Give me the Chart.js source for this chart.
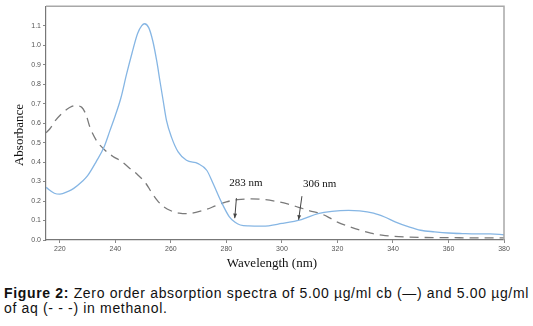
<!DOCTYPE html>
<html>
<head>
<meta charset="utf-8">
<script src="https://cdn.jsdelivr.net/npm/chart.js@4/dist/chart.umd.min.js"></script>
<style>
  html, body { margin: 0; padding: 0; background: #fff; }
  #wrap { position: relative; width: 533px; height: 326px; overflow: hidden; }
  #c { position: absolute; left: 0; top: 0; }
  #caption {
    position: absolute; left: 4px; top: 286px; width: 529px;
    font-family: "Liberation Sans", Arial, sans-serif; font-size: 14px;
    line-height: 15px; color: #111; white-space: nowrap;
  }
</style>
</head>
<body>
<div id="wrap">
  <canvas id="c" width="533" height="275"></canvas>
  <div id="caption"><span id="line1"><b>Figure 2:</b> Zero order absorption spectra of 5.00 µg/ml cb (—) and 5.00 µg/ml</span><br><span id="line2">of aq (- - -) in methanol.</span></div>
</div>
<script>
// Wavelength grid (nm) and absorbance for cb (solid) and aq (dashed)
const cbWavelength = [215, 218, 220, 223, 225, 228, 230, 233, 236, 238, 240, 242, 244, 246, 248, 249.5, 250.5, 252, 253.5, 255, 256, 257.2, 258.4, 260.2, 262.6, 265.6, 269.8, 272.9, 275.2, 278, 281, 283, 285, 288, 293, 300, 307, 313, 318, 324, 328, 333, 337, 341, 346, 350, 355, 360, 365, 370, 375, 380];
const cbAbsorbance = [0.27, 0.24, 0.235, 0.25, 0.265, 0.30, 0.33, 0.40, 0.48, 0.56, 0.64, 0.73, 0.85, 0.96, 1.06, 1.10, 1.11, 1.09, 1.02, 0.91, 0.82, 0.716, 0.614, 0.528, 0.452, 0.409, 0.392, 0.358, 0.29, 0.20, 0.12, 0.092, 0.077, 0.072, 0.071, 0.085, 0.105, 0.135, 0.147, 0.152, 0.150, 0.138, 0.118, 0.092, 0.066, 0.050, 0.042, 0.036, 0.033, 0.031, 0.031, 0.027];

const aqWavelength = [215, 216.4, 218.5, 221.2, 223.5, 225.4, 227.8, 229.5, 230.8, 233.2, 235.6, 239, 242, 245, 248, 251, 253, 255, 257, 260, 263, 266, 269, 273, 276, 280, 284, 289, 294, 298, 302, 306, 310, 314, 317, 320, 324, 328, 332, 336, 340, 345, 350, 360, 370, 380];
const aqAbsorbance = [0.55, 0.571, 0.615, 0.656, 0.68, 0.69, 0.682, 0.64, 0.58, 0.51, 0.47, 0.43, 0.405, 0.37, 0.335, 0.29, 0.245, 0.205, 0.175, 0.15, 0.138, 0.135, 0.142, 0.158, 0.175, 0.196, 0.207, 0.211, 0.207, 0.198, 0.185, 0.168, 0.150, 0.135, 0.115, 0.092, 0.070, 0.051, 0.035, 0.025, 0.019, 0.015, 0.013, 0.012, 0.011, 0.011];

const xTicks = [220, 240, 260, 280, 300, 320, 340, 360, 380];
const yTicks = [0.0, 0.1, 0.2, 0.3, 0.4, 0.5, 0.6, 0.7, 0.8, 0.9, 1.0, 1.1];

// Marked wavelengths (nm)
const markedWavelengths = [283, 306];

const toPoints = (xs, ys) => xs.map((x, i) => ({ x: x, y: ys[i] }));

// Frame, axis titles and wavelength call-outs
const decorations = {
  id: 'decorations',
  afterDraw(chart) {
    const { ctx, chartArea: a, scales } = chart;
    const xs = scales.x, ys = scales.y;
    ctx.save();
    // top and right frame
    ctx.strokeStyle = '#a8a8a8';
    ctx.lineWidth = 1.5;
    ctx.beginPath();
    ctx.moveTo(a.left, a.top);
    ctx.lineTo(a.right, a.top);
    ctx.lineTo(a.right, a.bottom);
    ctx.stroke();

    // axis titles
    ctx.fillStyle = '#111';
    ctx.font = '13px "Liberation Serif", "Times New Roman", serif';
    ctx.textAlign = 'center';
    ctx.textBaseline = 'middle';
    ctx.fillText('Wavelength (nm)', 272, 264);
    ctx.save();
    ctx.translate(20, 135);
    ctx.rotate(-Math.PI / 2);
    ctx.fillText('Absorbance', 0, 0);
    ctx.restore();

    // call-outs: label, arrow pointing down to the marked wavelength
    const callouts = [
      { nm: markedWavelengths[0], labelX: 287.0, labelY: 0.29, fromX: 283.6, fromY: 0.215, toY: 0.112 },
      { nm: markedWavelengths[1], labelX: 313.6, labelY: 0.286, fromX: 307.2, fromY: 0.225, toY: 0.104 }
    ];
    ctx.font = '11px "Liberation Serif", "Times New Roman", serif';
    callouts.forEach(c => {
      ctx.fillStyle = '#111';
      ctx.fillText(c.nm + ' nm', xs.getPixelForValue(c.labelX), ys.getPixelForValue(c.labelY));
      const x0 = xs.getPixelForValue(c.fromX), y0 = ys.getPixelForValue(c.fromY);
      const x1 = xs.getPixelForValue(c.nm), y1 = ys.getPixelForValue(c.toY);
      ctx.strokeStyle = '#444';
      ctx.lineWidth = 1;
      ctx.beginPath();
      ctx.moveTo(x0, y0);
      ctx.lineTo(x1, y1);
      ctx.stroke();
      const ang = Math.atan2(y1 - y0, x1 - x0);
      const len = 5, spread = 0.4;
      ctx.fillStyle = '#444';
      ctx.beginPath();
      ctx.moveTo(x1, y1);
      ctx.lineTo(x1 - len * Math.cos(ang - spread), y1 - len * Math.sin(ang - spread));
      ctx.lineTo(x1 - len * Math.cos(ang + spread), y1 - len * Math.sin(ang + spread));
      ctx.closePath();
      ctx.fill();
    });
    ctx.restore();
  }
};

const tickFont = { family: '"Liberation Sans", Arial, sans-serif', size: 7 };

new Chart(document.getElementById('c'), {
  type: 'line',
  data: {
    datasets: [
      {
        label: 'cb',
        data: toPoints(cbWavelength, cbAbsorbance),
        borderColor: '#86b6e4',
        borderWidth: 1.3,
        pointRadius: 0,
        fill: false,
        cubicInterpolationMode: 'monotone'
      },
      {
        label: 'aq',
        data: toPoints(aqWavelength, aqAbsorbance),
        borderColor: '#7a7a7a',
        borderWidth: 1.3,
        borderDash: [9, 6],
        pointRadius: 0,
        fill: false,
        cubicInterpolationMode: 'monotone'
      }
    ]
  },
  options: {
    responsive: false,
    animation: false,
    events: [],
    layout: { padding: { left: 0, right: 29, top: 6, bottom: 0 } },
    plugins: { legend: { display: false }, tooltip: { enabled: false }, title: { display: false } },
    scales: {
      x: {
        type: 'linear',
        min: 215,
        max: 380,
        afterBuildTicks: s => { s.ticks = xTicks.map(v => ({ value: v })); },
        afterFit: s => { s.height = 35; },
        grid: { drawOnChartArea: false, drawTicks: true, tickLength: 3, color: '#888' },
        border: { display: true, color: '#777', width: 1.2 },
        ticks: { font: tickFont, color: '#555', padding: 2, maxRotation: 0, callback: v => String(v) }
      },
      y: {
        min: 0,
        max: 1.2,
        afterBuildTicks: s => { s.ticks = yTicks.map(v => ({ value: v })); },
        afterFit: s => { s.width = 46; },
        grid: { drawOnChartArea: false, drawTicks: true, tickLength: 3, color: '#888' },
        border: { display: true, color: '#777', width: 1.2 },
        ticks: { font: tickFont, color: '#555', padding: 2, callback: v => Number(v).toFixed(1) }
      }
    }
  },
  plugins: [decorations]
});

// Spread the caption's first line across the available width
(function () {
  const line1 = document.getElementById('line1');
  const target = 525;
  const w = line1.getBoundingClientRect().width;
  const n = line1.textContent.length;
  const ls = (target - w) / n;
  document.getElementById('caption').style.letterSpacing = ls.toFixed(3) + 'px';
})();
</script>
</body>
</html>
